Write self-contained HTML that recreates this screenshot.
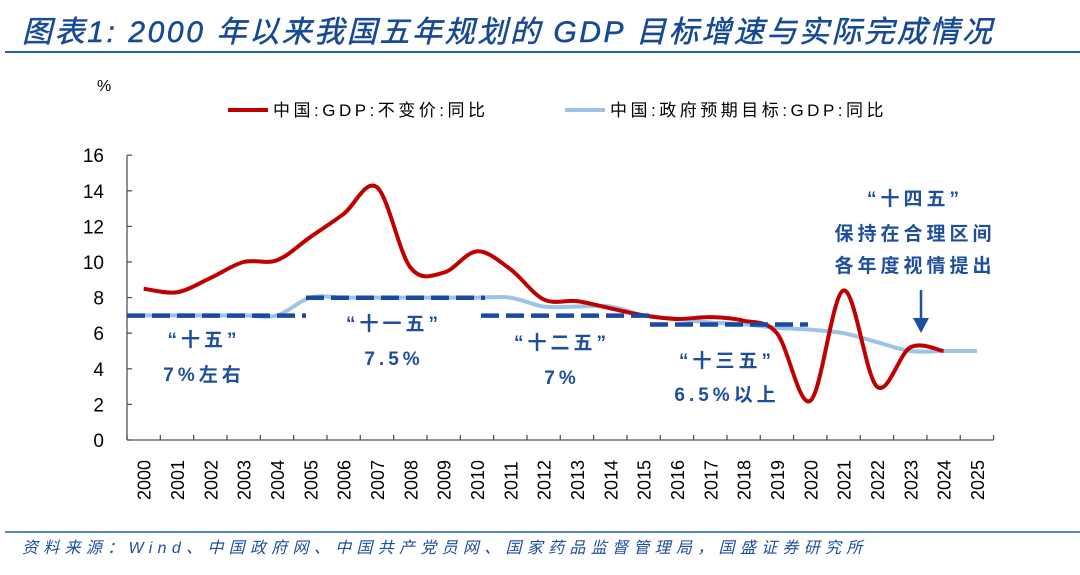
<!DOCTYPE html>
<html><head><meta charset="utf-8"><style>
body{margin:0;background:#fff;width:1080px;height:570px;overflow:hidden;font-family:"Liberation Sans","Noto Sans CJK SC",sans-serif}
</style></head><body>
<svg id="s" width="1080" height="570" xmlns="http://www.w3.org/2000/svg" font-family="Liberation Sans, Noto Sans CJK SC, sans-serif">
<text x="22" y="42" font-size="30" font-style="italic" fill="#164a96" letter-spacing="2.6" stroke="#164a96" stroke-width="0.5">图表1:  2000 年以来我国五年规划的 GDP 目标增速与实际完成情况</text>
<line x1="5" y1="52" x2="1080" y2="52" stroke="#1f5fb0" stroke-width="2"/>
<text x="97" y="91" font-size="16" fill="#000">%</text>
<line x1="228" y1="110" x2="268" y2="110" stroke="#c00000" stroke-width="4"/>
<text x="273" y="116" font-size="17" fill="#000" letter-spacing="3.5">中国:GDP:不变价:同比</text>
<line x1="565" y1="110" x2="605" y2="110" stroke="#9dc3e6" stroke-width="4"/>
<text x="610" y="116" font-size="17" fill="#000" letter-spacing="3.5">中国:政府预期目标:GDP:同比</text>
<g id="ax" stroke="#555" stroke-width="1.3" fill="none"></g>
<g id="yl" font-size="19" fill="#000" text-anchor="end"></g>
<g id="xl" font-size="18" fill="#000"></g>
<path id="lb" fill="none" stroke="#9dc3e6" stroke-width="4"/>
<path id="rd" fill="none" stroke="#c00000" stroke-width="4"/>
<g stroke="#1a4a9e" stroke-width="4.5" stroke-dasharray="18,7">
<line x1="127" y1="315.6" x2="306" y2="315.6"/>
<line x1="306" y1="297.8" x2="485" y2="297.8"/>
<line x1="481" y1="315.6" x2="650" y2="315.6"/>
<line x1="650" y1="324.5" x2="808" y2="324.5"/>
</g>
<g font-size="19" font-weight="bold" fill="#1f4e9c" text-anchor="middle" letter-spacing="4">
<text x="204" y="346">“十五”</text><text x="204" y="381">7%左右</text>
<text x="394" y="330">“十一五”</text><text x="394" y="365">7.5%</text>
<text x="562" y="349">“十二五”</text><text x="562" y="384">7%</text>
<text x="727" y="367">“十三五”</text><text x="727" y="401">6.5%以上</text>
<text x="915" y="205">“十四五”</text><text x="915" y="240">保持在合理区间</text><text x="915" y="272">各年度视情提出</text>
</g>
<line x1="921" y1="290" x2="921" y2="322" stroke="#1f4e9c" stroke-width="2.5"/>
<polygon points="913,318 929,318 921,333" fill="#1f4e9c"/>
<line x1="5" y1="532" x2="1080" y2="532" stroke="#1f5fb0" stroke-width="1.5"/>
<text x="22" y="553" font-size="16" font-style="italic" fill="#1f4e9c" letter-spacing="5.3">资料来源：Wind、中国政府网、中国共产党员网、国家药品监督管理局，国盛证券研究所</text>
</svg>
<script>
var ns="http://www.w3.org/2000/svg",X0=127,W=33.33,Y0=440,K=17.8;
function cx(i){return X0+W/2+W*i}function cy(v){return Y0-v*K}
var ax=document.getElementById('ax'),yl=document.getElementById('yl'),xl=document.getElementById('xl');
function el(p,t,a,tx){var e=document.createElementNS(ns,t);for(var k in a)e.setAttribute(k,a[k]);if(tx)e.textContent=tx;p.appendChild(e);return e}
el(ax,'line',{x1:X0,y1:cy(16),x2:X0,y2:Y0});el(ax,'line',{x1:X0,y1:Y0,x2:X0+26*W,y2:Y0});
for(var v=0;v<=16;v+=2){el(ax,'line',{x1:X0,y1:cy(v),x2:X0+5,y2:cy(v)});el(yl,'text',{x:104,y:cy(v)+7},String(v))}
for(var i=0;i<=26;i++)el(ax,'line',{x1:X0+W*i,y1:Y0,x2:X0+W*i,y2:Y0-5});
for(var i=0;i<26;i++){var x=cx(i)+7;el(xl,'text',{x:x,y:500,transform:'rotate(-90 '+x+' 500)'},String(2000+i))}
function path(d){var p=d.map(function(v,i){return[cx(i),cy(v)]});var s='M'+p[0][0]+','+p[0][1];
for(var i=0;i<p.length-1;i++){var a=p[i-1]||p[i],b=p[i],c=p[i+1],e=p[i+2]||c;
s+=' C'+(b[0]+(c[0]-a[0])/6)+','+(b[1]+(c[1]-a[1])/6)+' '+(c[0]-(e[0]-b[0])/6)+','+(c[1]-(e[1]-b[1])/6)+' '+c[0]+','+c[1]}return s}
document.getElementById('rd').setAttribute('d',path([8.5,8.3,9.1,10.0,10.1,11.4,12.7,14.2,9.7,9.4,10.6,9.6,7.9,7.8,7.4,7.0,6.8,6.9,6.7,6.0,2.2,8.4,3.0,5.2,5.0]));
document.getElementById('lb').setAttribute('d',path([7,7,7,7,7,8,8,8,8,8,8,8,7.5,7.5,7.5,7,6.8,6.6,6.5,6.3,6.2,6,5.5,5,5,5]));
</script>
</body></html>
